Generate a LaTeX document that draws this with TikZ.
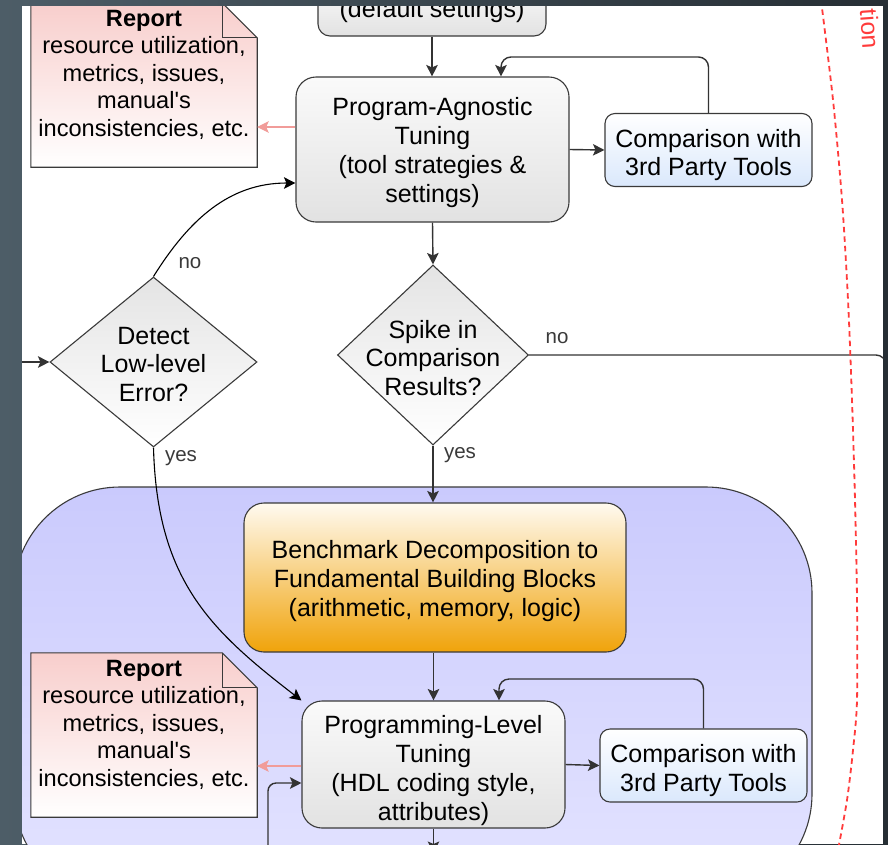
\documentclass[tikz,border=0pt]{standalone}
\usepackage{fontspec}
\newfontfamily\lib{Liberation Sans}
\usetikzlibrary{shapes.geometric,arrows.meta}
\definecolor{bgL}{HTML}{4D5D67}
\definecolor{bgR}{HTML}{262E34}
\definecolor{bdr}{HTML}{3A3A3A}
\definecolor{arrc}{HTML}{333333}
\definecolor{pinkc}{HTML}{F19C99}
\definecolor{noteTop}{HTML}{F8CECC}
\definecolor{blueBot}{HTML}{DAE8FC}
\definecolor{grayTop}{HTML}{FAFAFA}
\definecolor{grayBot}{HTML}{E2E2E2}
\definecolor{diaTop}{HTML}{E4E4E4}
\definecolor{orangeBot}{HTML}{F0A30A}
\definecolor{orangeTop}{HTML}{FFFAF0}
\definecolor{grpTop}{HTML}{CACAFD}
\definecolor{grpBot}{HTML}{E4E4FF}
\definecolor{reddash}{HTML}{FF3B3B}
\definecolor{lblc}{HTML}{3A3A3A}
\begin{document}
\begin{tikzpicture}[x=1pt,y=-1pt,
  mainfont/.style={font=\lib\fontsize{25}{28.7}\selectfont},
  notefont/.style={font=\lib\fontsize{23.6}{27.5}\selectfont},
  lblfont/.style={font=\lib\fontsize{20.5}{24}\selectfont, text=lblc},
  boxtext/.style={mainfont, align=center, inner sep=0pt},
  procbox/.style={draw=bdr, line width=1.1pt, rounded corners=20pt, top color=grayTop, bottom color=grayBot, inner sep=0pt},
  cmpbox/.style={draw=bdr, line width=1.1pt, rounded corners=10pt, top color=white, bottom color=blueBot, inner sep=0pt, minimum width=207pt, minimum height=73pt},
  benchbox/.style={draw=bdr, line width=1.1pt, rounded corners=20pt, top color=orangeTop, bottom color=orangeBot, inner sep=0pt},
  decbox/.style={diamond, draw=bdr, line width=1.1pt, top color=diaTop, bottom color=white, inner sep=0pt},
  noteframe/.style={minimum width=226pt, minimum height=164pt, inner sep=0pt},
  noteshape/.style={draw=bdr, line width=1.1pt, top color=noteTop, bottom color=white},
  notetext/.style={notefont, align=center, inner sep=0pt},
  tip/.style={-{Stealth[length=11.5pt,width=11.5pt,inset=2.5pt]}},
  arr/.style={draw=arrc, line width=1.4pt, tip},
  carr/.style={draw=black, line width=1.1pt, tip},
  pinkarr/.style={draw=pinkc, line width=1.2pt, tip},
  plainline/.style={draw=arrc, line width=1.4pt},
  redline/.style={draw=reddash, line width=1.8pt, dash pattern=on 5.5pt off 4pt}
]
\useasboundingbox (0,0) rectangle (888,844);
\shade[left color=bgL, right color=bgR] (0,0) rectangle (888,844);
\begin{scope}
\clip (22,6) rectangle (883,844);
\fill[white] (22,6) rectangle (883,844);

% container
\path[draw=bdr, line width=1.1pt, top color=grpTop, bottom color=grpBot, rounded corners=106pt] (14,487) rectangle (812,900);

% helper coordinates
\coordinate (y127) at (0,127);
\coordinate (y183) at (0,183);
\coordinate (y766) at (0,766);
\coordinate (y783) at (0,783);
\coordinate (fb1) at (501,57);
\coordinate (fb2) at (499,679);
\coordinate (inL) at (10,362);
\coordinate (noend) at (886,355);
\coordinate (nodown) at (886,420);
\coordinate (loopin) at (268,870);
\coordinate (plout) at (433.5,853);

% nodes
\node[procbox, rounded corners=12pt, minimum width=228pt, minimum height=52pt] (def) at (432,10) {};
\node[boxtext] (deft) at (432,11.5) {(default settings)};
\node[procbox, minimum width=273pt, minimum height=145pt] (pa) at (432.5,149.5) {};
\node[boxtext] (pat) at (432.5,152.5) {Program-Agnostic\\Tuning\\(tool strategies \&\\settings)};
\node[cmpbox] (comp1) at (708.5,150) {};
\node[boxtext] (comp1t) at (708.5,155) {Comparison with\\3rd Party Tools};

\node[noteframe] (rep1) at (144,85) {};
\path[noteshape] (rep1.north west) -- ([xshift=-35pt]rep1.north east) -- ([yshift=-35pt]rep1.north east) -- (rep1.south east) -- (rep1.south west) -- cycle;
\draw[bdr, line width=1.1pt] ([xshift=-35pt]rep1.north east) -- ([xshift=-35pt,yshift=-35pt]rep1.north east) -- ([yshift=-35pt]rep1.north east);
\node[notetext] (rep1t) at (144,74.5) {\textbf{Report}\\resource utilization,\\metrics, issues,\\manual's\\inconsistencies, etc.};

\node[decbox, minimum width=207pt, minimum height=170pt] (det) at (153.5,362) {};
\node[boxtext] (dett) at (153.5,364.5) {Detect\\Low-level\\Error?};
\node[decbox, minimum width=191pt, minimum height=180pt] (spk) at (433,355) {};
\node[boxtext] (spkt) at (433,358) {Spike in\\Comparison\\Results?};

\node[benchbox, minimum width=382pt, minimum height=149pt] (bench) at (435,577.5) {};
\node[boxtext] (bencht) at (435,581) {Benchmark Decomposition to\\Fundamental Building Blocks\\(arithmetic, memory, logic)};
\node[procbox, minimum width=263pt, minimum height=127pt] (pl) at (433.5,764.5) {};
\node[boxtext] (plt) at (433.5,770.5) {Programming-Level\\Tuning\\(HDL coding style,\\attributes)};
\node[cmpbox] (comp2) at (703.5,765.5) {};
\node[boxtext] (comp2t) at (703.5,770.5) {Comparison with\\3rd Party Tools};

\node[noteframe] (rep2) at (144,735) {};
\path[noteshape] (rep2.north west) -- ([xshift=-35pt]rep2.north east) -- ([yshift=-35pt]rep2.north east) -- (rep2.south east) -- (rep2.south west) -- cycle;
\draw[bdr, line width=1.1pt] ([xshift=-35pt]rep2.north east) -- ([xshift=-35pt,yshift=-35pt]rep2.north east) -- ([yshift=-35pt]rep2.north east);
\node[notetext] (rep2t) at (144,724.5) {\textbf{Report}\\resource utilization,\\metrics, issues,\\manual's\\inconsistencies, etc.};

% labels
\node[lblfont] (nodet) at (190,263) {no};
\node[lblfont] (yesdet) at (181,458) {yes};
\node[lblfont] (nospk) at (557,338) {no};
\node[lblfont] (yesspk) at (460,455) {yes};

% connectors
\draw[arr] (def.south) -- (def.south |- pa.north);
\draw[arr, rounded corners=10pt] (comp1.north) |- (fb1) -- (fb1 |- pa.north);
\draw[arr] (pa.east) -- (comp1.west);
\draw[pinkarr] (pa.west |- y127) -- (rep1.east |- y127);
\draw[carr] (det.north) to[out=58,in=180] (pa.west |- y183);
\draw[arr] (pa.south) -- (spk.north);
\draw[plainline, rounded corners=10pt] (spk.east) -- (noend) -- (nodown);
\draw[arr] (inL) -- (det.west);
\draw[arr] (spk.south) -- (spk.south |- bench.north);
\draw[carr] (det.south) .. controls (157,580) and (210,630) .. (pl.north west);
\draw[arr] (pl.north |- bench.south) -- (pl.north);
\draw[arr, rounded corners=10pt] (comp2.north) |- (fb2) -- (fb2 |- pl.north);
\draw[arr] (pl.east) -- (comp2.west);
\draw[pinkarr] (pl.west |- y766) -- (rep2.east |- y766);
\draw[arr, rounded corners=8pt] (loopin) |- (pl.west |- y783);
\draw[arr] (pl.south) -- (plout);

% red dashed boundary
\draw[redline] plot[smooth] coordinates {(821,0) (833,100) (842,200) (848,300) (852,400) (855,500) (857,600) (857,700) (853,750) (847,800) (838,850)};
\node[text=reddash, rotate=-86, font=\lib\fontsize{24.5}{24.5}\selectfont, inner sep=0pt] (tion) at (870,29) {tion};
\end{scope}
\end{tikzpicture}
\end{document}
